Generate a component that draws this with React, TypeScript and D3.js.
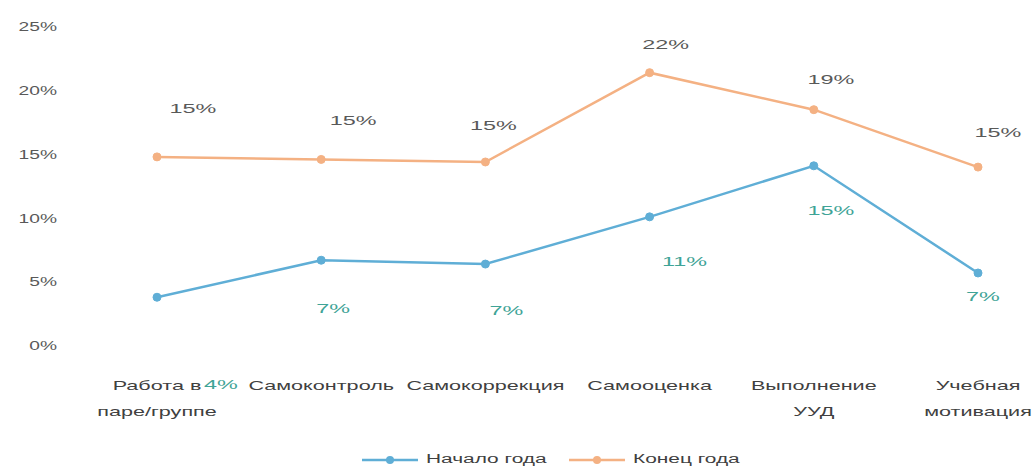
import React from "react";
import * as d3 from "d3";

const categories = [
  ["Работа в", "паре/группе"],
  ["Самоконтроль"],
  ["Самокоррекция"],
  ["Самооценка"],
  ["Выполнение", "УУД"],
  ["Учебная", "мотивация"],
];
const startValues = [3.9, 6.8, 6.5, 10.2, 14.2, 5.8];
const endValues = [14.9, 14.7, 14.5, 21.5, 18.6, 14.1];
const startLabels = ["4%", "7%", "7%", "11%", "15%", "7%"];
const endLabels = ["15%", "15%", "15%", "22%", "19%", "15%"];
const yTicks = [0, 5, 10, 15, 20, 25];
const seriesNames = ["Начало года", "Конец года"];

// label offsets (styling)
const endLabelOffsets = [[36, -47], [32, -38], [8, -35], [16, -27], [17, -29], [20, -34]];
const startLabelOffsets = [[64, 88], [12, 49], [21, 48], [35, 46], [17, 46], [5, 25]];

const W = 1032;
const H = 472;
const BLUE = "#5FAED6";
const ORANGE = "#F4B183";
const FONT = "'Liberation Sans', Arial, sans-serif";
const SX = 1.8;

function WText({ x, y, sx = SX, anchor = "middle", size = 12, fill = "#404040", children }: any) {
  return (
    <text
      transform={`translate(${x},${y}) scale(${sx},1)`}
      textAnchor={anchor}
      dominantBaseline="middle"
      fontSize={size}
      fill={fill}
    >
      {children}
    </text>
  );
}

export default function App() {
  const x = d3.scalePoint<number>().domain(d3.range(categories.length)).range([157, 978]);
  const y = d3.scaleLinear().domain([0, 25]).range([347, 28]);
  const line = d3
    .line<number>()
    .x((_, i) => x(i) as number)
    .y((d) => y(d));

  const series = [
    { name: seriesNames[0], values: startValues, labels: startLabels, color: BLUE, offs: startLabelOffsets, labelColor: "#3FA497" },
    { name: seriesNames[1], values: endValues, labels: endLabels, color: ORANGE, offs: endLabelOffsets, labelColor: "#595959" },
  ];

  return (
    <svg width={W} height={H} style={{ position: "absolute", left: 0, top: 0, background: "#fff" }} fontFamily={FONT}>
      {yTicks.map((t) => (
        <WText key={t} x={57} y={y(t)} sx={1.6} anchor="end" size={12} fill="#595959">
          {t}%
        </WText>
      ))}
      {series.map((s) => (
        <g key={s.name}>
          <path d={line(s.values) || ""} fill="none" stroke={s.color} strokeWidth={2.5} />
          {s.values.map((v, i) => (
            <circle key={i} cx={x(i)} cy={y(v)} r={4} fill={s.color} stroke={s.color} />
          ))}
        </g>
      ))}
      {categories.map((c, i) =>
        c.map((ln, j) => (
          <WText key={i + "-" + j} x={x(i)} y={387 + j * 26} size={12} fill="#404040">
            {ln}
          </WText>
        ))
      )}
      {series.map((s) => (
        <g key={s.name + "lbl"}>
          {s.values.map((v, i) => (
            <WText
              key={"l" + i}
              x={(x(i) as number) + s.offs[i][0]}
              y={y(v) + s.offs[i][1]}
              size={13}
              fill={s.labelColor}
            >
              {s.labels[i]}
            </WText>
          ))}
        </g>
      ))}
      {series.map((s, k) => {
        const lx = k === 0 ? 362 : 569;
        return (
          <g key={"lg" + k}>
            <line x1={lx} x2={lx + 56} y1={460} y2={460} stroke={s.color} strokeWidth={2.5} />
            <circle cx={lx + 28} cy={460} r={4} fill={s.color} />
            <WText x={lx + 64} y={460} anchor="start" size={12} sx={1.74} fill="#404040">
              {s.name}
            </WText>
          </g>
        );
      })}
    </svg>
  );
}
